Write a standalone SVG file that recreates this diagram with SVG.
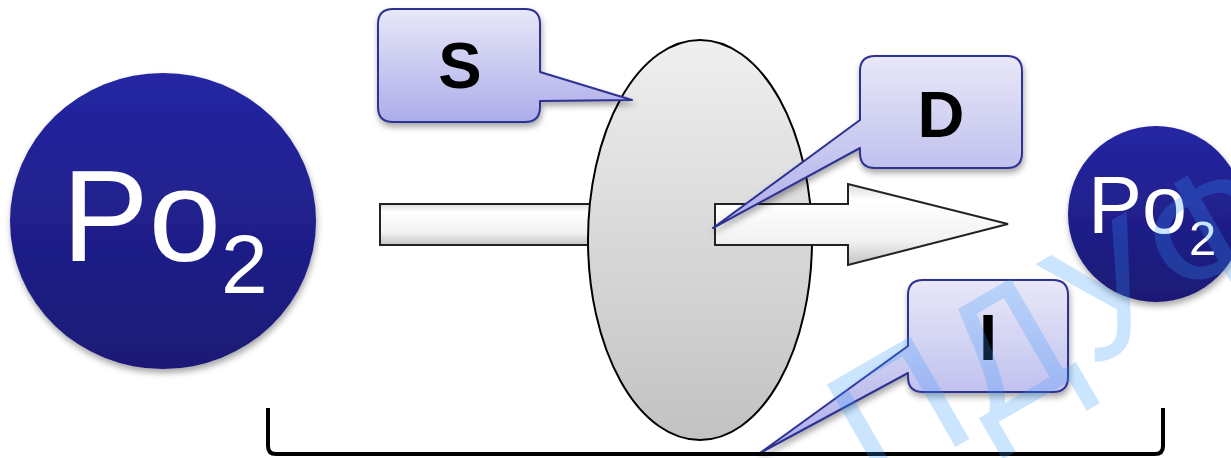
<svg xmlns="http://www.w3.org/2000/svg" width="1231" height="458" viewBox="0 0 1231 458">
  <defs>
    <linearGradient id="gBall" x1="0" y1="0" x2="0" y2="1">
      <stop offset="0" stop-color="#2526a3"/>
      <stop offset="1" stop-color="#1b1975"/>
    </linearGradient>
    <linearGradient id="gOval" x1="0" y1="0" x2="0" y2="1">
      <stop offset="0" stop-color="#efefef"/>
      <stop offset="1" stop-color="#c2c2c2"/>
    </linearGradient>
    <linearGradient id="gArrow" x1="0" y1="0" x2="0" y2="1">
      <stop offset="0" stop-color="#dcdcdc"/>
      <stop offset="0.2" stop-color="#ffffff"/>
      <stop offset="0.7" stop-color="#f2f2f2"/>
      <stop offset="1" stop-color="#c4c4c4"/>
    </linearGradient>
    <linearGradient id="gCall" x1="0" y1="0" x2="0" y2="1">
      <stop offset="0" stop-color="#e8e8f8"/>
      <stop offset="1" stop-color="#acacea"/>
    </linearGradient>
    <filter id="shadow" x="-20%" y="-20%" width="140%" height="150%">
      <feDropShadow dx="1" dy="4" stdDeviation="3" flood-color="#000" flood-opacity="0.35"/>
    </filter>
  </defs>
  <style>
    .ball { fill: url(#gBall); filter: url(#shadow); }
    .ballTxt { fill: #ffffff; font-family: "Liberation Sans", Arial, sans-serif; }
    .arrow { fill: url(#gArrow); stroke: #222; stroke-width: 2; stroke-linejoin: miter; }
    .oval { fill: url(#gOval); stroke: #000; stroke-width: 2; }
    .call { fill: url(#gCall); stroke: #2e3192; stroke-width: 2; stroke-linejoin: round; filter: url(#shadow); }
    .callTxt { fill: #000; font-family: "Liberation Sans", Arial, sans-serif; font-weight: bold; font-size: 65px; text-anchor: middle; }
    .bracket { fill: none; stroke: #000; stroke-width: 4; stroke-linejoin: round; }
    .wm { fill: #3399ff; fill-opacity: 0.25; font-family: "Liberation Sans", Arial, sans-serif; font-size: 172px; letter-spacing: 4px; }
  </style>

  <g id="connectors">
    <rect class="arrow" x="380" y="204" width="230" height="41"/>
  </g>

  <g id="membrane">
    <ellipse class="oval" cx="700" cy="240" rx="112" ry="200"/>
  </g>

  <g id="flow-arrow">
    <path class="arrow" d="M715,204 H848 V184 L1008,224 L848,265 V245 H715 Z"/>
  </g>

  <g id="po2-left">
    <ellipse class="ball" cx="163" cy="221" rx="153" ry="148"/>
    <text class="ballTxt" x="62" y="261" font-size="130">Po<tspan font-size="84" y="293">2</tspan></text>
  </g>

  <g id="po2-right">
    <circle class="ball" cx="1156" cy="214" r="88"/>
    <text class="ballTxt" x="1088" y="233" font-size="81">Po<tspan font-size="49" y="255" dx="2">2</tspan></text>
  </g>

  <g id="callout-S">
    <path class="call" d="M393,9 H525 Q540,9 540,24 V72 L632,100 L540,101 V107 Q540,122 525,122 H393 Q378,122 378,107 V24 Q378,9 393,9 Z"/>
    <text class="callTxt" x="460" y="88">S</text>
  </g>

  <g id="callout-D">
    <path class="call" d="M875,56 H1007 Q1022,56 1022,71 V153 Q1022,168 1007,168 H875 Q860,168 860,153 V148 L713,228 L860,120 V71 Q860,56 875,56 Z"/>
    <text class="callTxt" x="941" y="137">D</text>
  </g>

  <g id="callout-I">
    <path class="call" d="M923,280 H1053 Q1068,280 1068,295 V377 Q1068,392 1053,392 H923 Q908,392 908,377 V373 L760,453 L908,346 V295 Q908,280 923,280 Z"/>
    <text class="callTxt" x="988" y="360">I</text>
  </g>

  <g id="bracket">
    <path class="bracket" d="M268,408 V446 Q268,454 276,454 H1155 Q1163,454 1163,446 V408"/>
  </g>

  <g id="watermark">
    <text class="wm" x="874" y="494" transform="rotate(-30 874 494)">ПДУФ</text>
  </g>
</svg>
